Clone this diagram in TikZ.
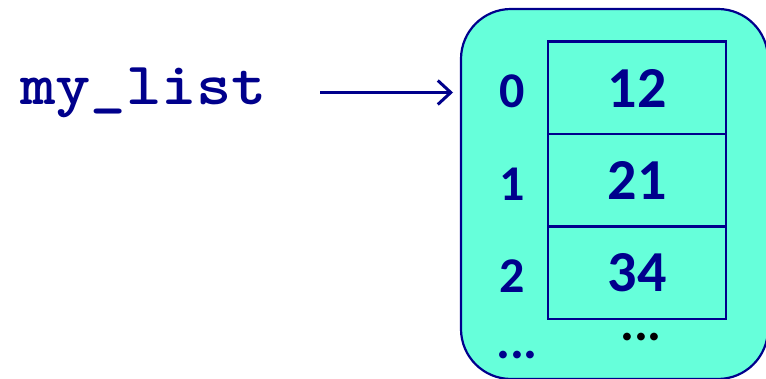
\documentclass[tikz,border=0pt]{standalone}
\usepackage{fontspec}
\usepackage{graphicx}
\setmainfont{Carlito}
\usetikzlibrary{arrows.meta}
\definecolor{navy}{RGB}{0,0,140}
\definecolor{aqua}{RGB}{102,255,218}
\tikzset{
  cell/.style={draw=navy, line width=2.5pt, minimum width=178pt, minimum height=92.5pt, inner sep=0pt, font=\fontsize{58}{60}\selectfont\bfseries, text=navy},
  idx/.style={font=\fontsize{50}{52}\selectfont\bfseries, text=navy, inner sep=0pt},
  dots/.style={font=\fontsize{52}{54}\selectfont\bfseries, inner sep=0pt},
}
\begin{document}
\begin{tikzpicture}[x=1pt,y=-1pt]
\useasboundingbox (0,0) rectangle (766,379);
\clip (0,0) rectangle (766,379);
\node[draw=navy, fill=aqua, line width=2.2pt, rounded corners=50pt, minimum width=307pt, minimum height=370pt, inner sep=0pt] (box) at (614.5,194) {};
\node[cell] (c0) at (637,88) {12};
\node[cell] (c1) at (637,180.5) {21};
\node[cell] (c2) at (637,273) {34};
\node[idx] (i0) at (512,91) {0};
\node[idx] (i1) at (512,184) {1};
\node[idx] (i2) at (512,276) {2};
\node[dots, text=navy] (d0) at (517,355) {...};
\node[dots, text=black] (d1) at (641,337) {...};
\node[font=\ttfamily\bfseries\fontsize{60}{62}\selectfont, text=navy, inner sep=0pt, anchor=base west] (lbl) at (20,105) {\scalebox{1.12}[1]{my\_list}};
\coordinate (as) at (320,92.5);
\coordinate (ae) at (453,92.5);
\draw[navy, line width=3pt, -{Straight Barb[length=13pt,width=24pt,line width=3pt]}] (as) -- (ae);
\end{tikzpicture}
\end{document}
